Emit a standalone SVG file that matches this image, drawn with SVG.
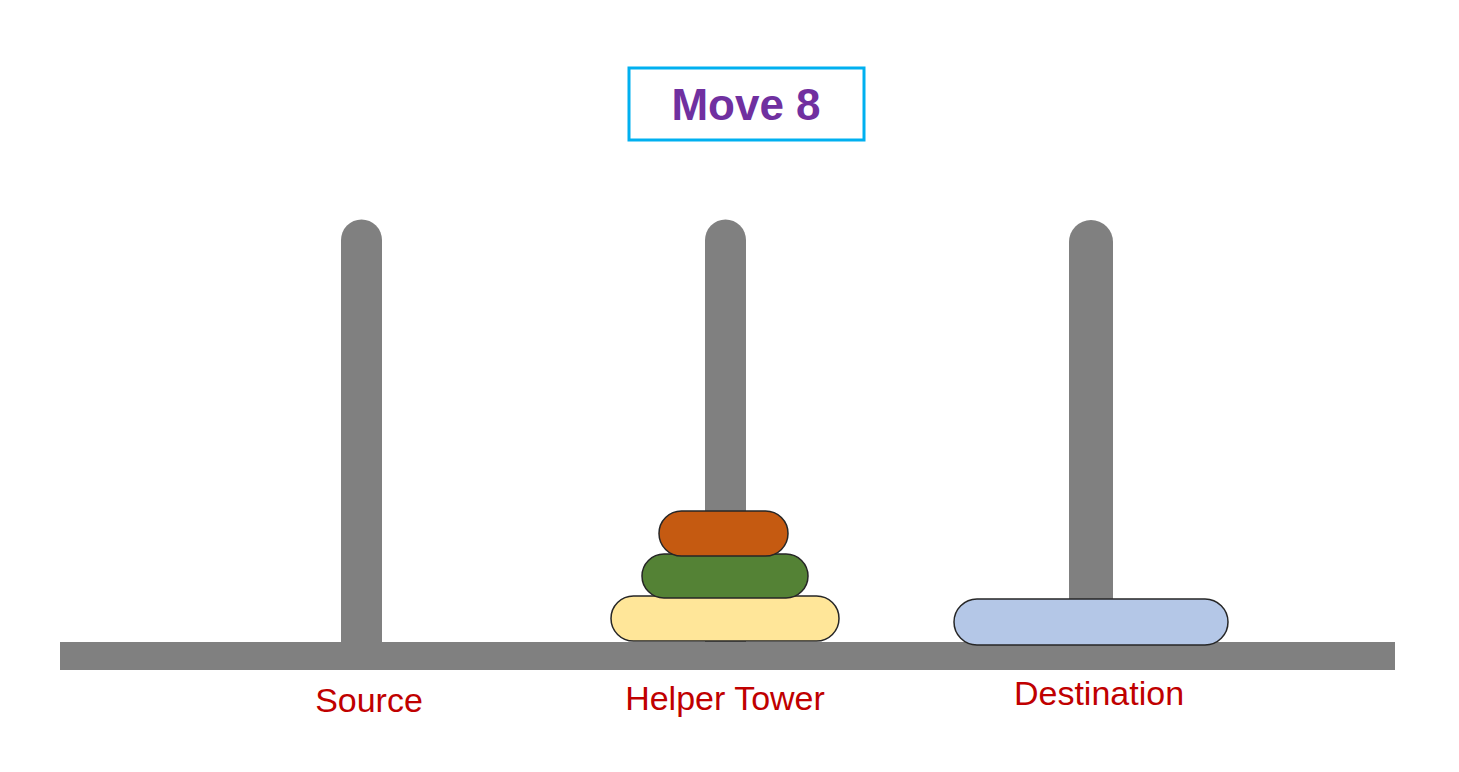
<svg xmlns="http://www.w3.org/2000/svg" width="1459" height="772" viewBox="0 0 1459 772">
<style>
.peg{fill:#808080}
.disc{stroke:#262626;stroke-width:1.5}
.lbl{font-family:"Liberation Sans",Arial,sans-serif;font-size:34px;fill:#C00000;text-anchor:middle}
</style>
<rect width="1459" height="772" fill="#fff"/>
<g id="title">
<rect x="629" y="68" width="235" height="72" fill="#fff" stroke="#00B0F0" stroke-width="3"/>
<text x="746" y="120" font-family="'Liberation Sans',Arial,sans-serif" font-weight="bold" font-size="44" fill="#7030A0" text-anchor="middle">Move 8</text>
</g>
<g id="base"><rect class="peg" x="60" y="642" width="1335" height="28"/></g>
<g id="peg-source"><path class="peg" d="M341,642 V240 A20.5,20.5 0 0 1 382,240 V642 Z"/></g>
<g id="peg-helper"><path class="peg" d="M705,642 V240 A20.5,20.5 0 0 1 746,240 V642 Z"/></g>
<g id="peg-destination"><path class="peg" d="M1069,642 V242 A22,22 0 0 1 1113,242 V642 Z"/></g>
<g id="disc-yellow"><rect class="disc" x="611" y="596" width="228" height="45" rx="22.5" fill="#FFE699"/></g>
<g id="disc-green"><rect class="disc" x="642" y="554" width="166" height="44" rx="22" fill="#548235"/></g>
<g id="disc-orange"><rect class="disc" x="659" y="511" width="129" height="45" rx="22.5" fill="#C55A11"/></g>
<g id="disc-blue"><rect class="disc" x="954" y="599" width="274" height="46" rx="23" fill="#B4C7E7"/></g>
<g id="labels">
<text class="lbl" x="369" y="712">Source</text>
<text class="lbl" x="725" y="710">Helper Tower</text>
<text class="lbl" x="1099" y="705">Destination</text>
</g>
<g id="connectors"/>
</svg>
